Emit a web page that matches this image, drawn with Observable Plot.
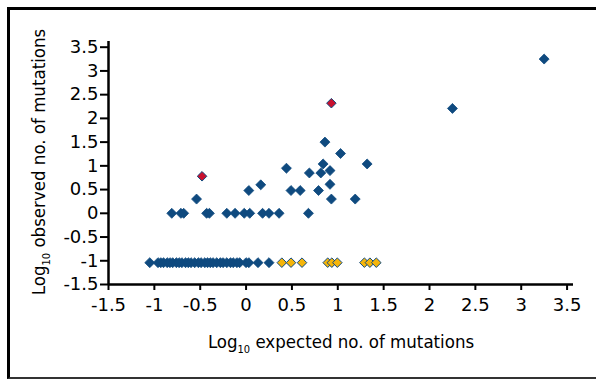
<!DOCTYPE html>
<html>
<head>
<meta charset="utf-8">
<script src="https://cdn.jsdelivr.net/npm/d3@7"></script>
<script src="https://cdn.jsdelivr.net/npm/@observablehq/plot@0.6"></script>
<style>
  html, body { margin: 0; padding: 0; background: #fff; overflow: hidden; }
  #wrap { position: relative; width: 596px; height: 379px; overflow: hidden; }
  #frame { position: absolute; left: 7px; top: 7px; width: 640px; height: 367px;
           border-left: 3px solid #000; border-top: 3px solid #000; border-bottom: 2px solid #333; }
  #chart { position: absolute; left: 0; top: 0; }
</style>
</head>
<body>
<div id="wrap"><div id="frame"></div><div id="chart"></div></div>
<script>
// Tick labels
const xTicks = [-1.5, -1, -0.5, 0, 0.5, 1, 1.5, 2, 2.5, 3, 3.5];
const yTicks = [-1.5, -1, -0.5, 0, 0.5, 1, 1.5, 2, 2.5, 3, 3.5];

// Blue series: log10 expected (x), log10 observed (y)
const blueX = [3.25, 2.25, 0.86, 1.03, 1.32, 0.84, 0.44, 0.69, 0.815, 0.915, 0.915, 0.16, 0.03, 0.49, 0.59, 0.79, 0.93, 1.19, -0.54,
  -0.81, -0.71, -0.68, -0.43, -0.40, -0.21, -0.12, -0.02, 0.04, 0.18, 0.25, 0.36, 0.68,
  -1.05, -0.96, -0.93, -0.9, -0.86, -0.83, -0.8, -0.76, -0.73, -0.7, -0.66, -0.63, -0.6, -0.56, -0.52, -0.49, -0.45, -0.42, -0.39, -0.36, -0.32, -0.28, -0.25, -0.21, -0.17, -0.14, -0.1, -0.07, 0.0, 0.03, 0.13, 0.25];
const blueY = [3.25, 2.21, 1.50, 1.26, 1.04, 1.04, 0.95, 0.85, 0.85, 0.90, 0.61, 0.60, 0.48, 0.48, 0.48, 0.48, 0.30, 0.30, 0.30,
  0, 0, 0, 0, 0, 0, 0, 0, 0, 0, 0, 0, 0,
  -1.04, -1.04, -1.04, -1.04, -1.04, -1.04, -1.04, -1.04, -1.04, -1.04, -1.04, -1.04, -1.04, -1.04, -1.04, -1.04, -1.04, -1.04, -1.04, -1.04, -1.04, -1.04, -1.04, -1.04, -1.04, -1.04, -1.04, -1.04, -1.04, -1.04, -1.04, -1.04];

// Red series
const redX = [-0.48, 0.93];
const redY = [0.78, 2.32];

// Yellow series
const yellowX = [0.39, 0.49, 0.61, 0.89, 0.935, 0.995, 1.29, 1.35, 1.42];
const yellowY = [-1.04, -1.04, -1.04, -1.04, -1.04, -1.04, -1.04, -1.04, -1.04];

const xLabel = ["Log", "10", " expected no. of mutations"];
const yLabel = ["Log", "10", " observed no. of mutations"];

const toPts = (xs, ys) => xs.map((x, i) => ({x, y: ys[i]}));
const blue = toPts(blueX, blueY);
const red = toPts(redX, redY);
const yellow = toPts(yellowX, yellowY);

const BLUE = "#0f4a7f";
const fmt = d => String(d);
const tickFont = "'DejaVu Sans', sans-serif";

const plot = Plot.plot({
  width: 596,
  height: 379,
  marginLeft: 108,
  marginRight: 23,
  marginTop: 41,
  marginBottom: 95,
  style: {fontFamily: tickFont, fontSize: "18px", color: "#000", background: "transparent"},
  x: {domain: [-1.5, 3.57]},
  y: {domain: [-1.5, 3.62]},
  marks: [
    Plot.axisY({ticks: yTicks, tickFormat: fmt, tickSize: 8, tickPadding: 2, strokeWidth: 2, label: null, fontSize: 18}),
    Plot.axisX({ticks: xTicks, tickFormat: fmt, tickSize: 6, tickPadding: 8, strokeWidth: 2, label: null, fontSize: 18}),
    Plot.ruleX([-1.5], {stroke: "#000", strokeWidth: 2.5}),
    Plot.ruleY([-1.5], {stroke: "#000", strokeWidth: 2.5}),
    Plot.dot(blue, {x: "x", y: "y", symbol: "diamond2", r: 4.5, fill: BLUE, stroke: BLUE, strokeWidth: 0.8}),
    Plot.dot(yellow, {x: "x", y: "y", symbol: "diamond2", r: 4.3, fill: "#f5b50a", stroke: BLUE, strokeWidth: 1}),
    Plot.dot(red, {x: "x", y: "y", symbol: "diamond2", r: 4.3, fill: "#c8102e", stroke: BLUE, strokeWidth: 1})
  ]
});
document.getElementById("chart").appendChild(plot);

const svg = d3.select(plot);
const titleFont = "'DejaVu Sans Condensed', sans-serif";
function addTitle(parts, x, y, rotate) {
  const t = svg.append("text")
    .attr("text-anchor", "middle")
    .attr("font-family", titleFont)
    .attr("font-size", 18.5)
    .attr("fill", "#000")
    .attr("transform", `translate(${x},${y})` + (rotate ? " rotate(-90)" : ""));
  t.append("tspan").text(parts[0]);
  t.append("tspan").attr("dy", 5).attr("font-size", 11).text(parts[1]);
  t.append("tspan").attr("dy", -5).text(parts[2]);
}
addTitle(xLabel, 341, 348, false);
addTitle(yLabel, 45, 162, true);
</script>
</body>
</html>
